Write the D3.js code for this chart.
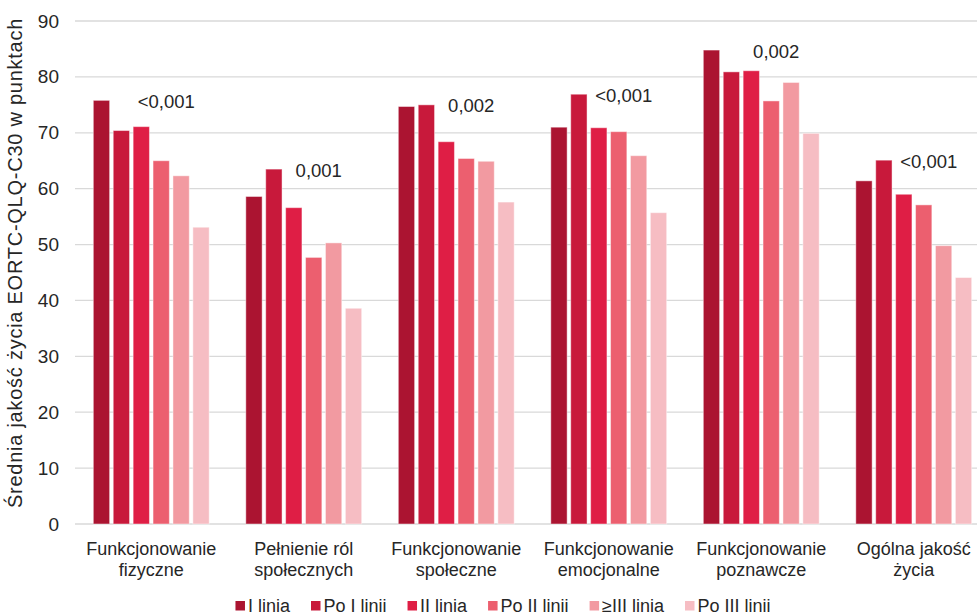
<!DOCTYPE html>
<html>
<head>
<meta charset="utf-8">
<script src="https://cdn.jsdelivr.net/npm/d3@7"></script>
<style>
  html, body { margin: 0; padding: 0; background: #fff; }
  svg { display: block; font-family: "Liberation Sans", Arial, sans-serif; }
</style>
</head>
<body>
<svg id="chart" width="977" height="616"></svg>
<script>
// Domains of EORTC QLQ-C30 (two-line labels)
const categories = [
  ["Funkcjonowanie", "fizyczne"],
  ["Pełnienie ról", "społecznych"],
  ["Funkcjonowanie", "społeczne"],
  ["Funkcjonowanie", "emocjonalne"],
  ["Funkcjonowanie", "poznawcze"],
  ["Ogólna jakość", "życia"]
];

// Treatment-line groups
const seriesNames = ["I linia", "Po I linii", "II linia", "Po II linii", "≥III linia", "Po III linii"];

// Mean scores per series, one value per domain
const iLinia      = [75.8, 58.6, 74.7, 71.0, 84.8, 61.4];
const poILinii    = [70.4, 63.5, 75.0, 76.9, 80.9, 65.1];
const iiLinia     = [71.1, 56.6, 68.4, 70.9, 81.1, 59.0];
const poIILinii   = [65.0, 47.7, 65.4, 70.2, 75.7, 57.1];
const geIIILinia  = [62.3, 50.3, 64.9, 65.9, 79.0, 49.8];
const poIIILinii  = [53.1, 38.6, 57.6, 55.7, 69.9, 44.1];
const seriesValues = [iLinia, poILinii, iiLinia, poIILinii, geIIILinia, poIIILinii];

// p-values for each domain
const pValues = ["<0,001", "0,001", "0,002", "<0,001", "0,002", "<0,001"];

// Y axis ticks
const yTicks = [0, 10, 20, 30, 40, 50, 60, 70, 80, 90];

const colors = ["#ab1431", "#c8193b", "#df1e45", "#ec5f6f", "#f29aa1", "#f6bdc3"];

const svg = d3.select("#chart");
const margin = { left: 75, right: 990, top: 21, bottom: 524 };

const x0 = d3.scaleBand()
  .domain(d3.range(categories.length))
  .range([margin.left, margin.right])
  .paddingInner(0).paddingOuter(0);

const x1 = d3.scaleBand()
  .domain(d3.range(seriesNames.length))
  .range([0, x0.bandwidth()])
  .paddingInner(0.181)
  .paddingOuter(0.92);

const y = d3.scaleLinear().domain([0, 90]).range([margin.bottom, margin.top]);

// Gridlines
svg.append("g")
  .selectAll("line")
  .data(yTicks)
  .join("line")
  .attr("x1", margin.left)
  .attr("x2", margin.right)
  .attr("y1", d => y(d))
  .attr("y2", d => y(d))
  .attr("stroke", "#d9d9d9")
  .attr("stroke-width", 1.3);

// Y axis tick labels
const yAxis = d3.axisLeft(y).tickValues(yTicks).tickSize(0).tickPadding(0);
const yG = svg.append("g")
  .attr("transform", "translate(59,0)")
  .call(yAxis);
yG.select(".domain").remove();
yG.selectAll("text")
  .attr("font-size", "19px")
  .attr("fill", "#262626")
  .attr("font-family", "Liberation Sans, Arial, sans-serif");

// Y axis title
svg.append("text")
  .attr("transform", "translate(22,263) rotate(-90)")
  .attr("text-anchor", "middle")
  .attr("font-size", "20px")
  .attr("letter-spacing", "0.75px")
  .attr("fill", "#262626")
  .text("Średnia jakość życia EORTC-QLQ-C30 w punktach");

// Bars
const groups = svg.append("g")
  .selectAll("g")
  .data(categories.map((c, i) => i))
  .join("g")
  .attr("transform", i => `translate(${x0(i)},0)`);

groups.selectAll("rect")
  .data(i => seriesValues.map((vals, s) => ({ s, v: vals[i] })))
  .join("rect")
  .attr("x", d => x1(d.s))
  .attr("width", x1.bandwidth())
  .attr("y", d => y(d.v))
  .attr("height", d => y(0) - y(d.v))
  .attr("fill", d => colors[d.s])
  .attr("stroke", "#ffffff")
  .attr("stroke-opacity", 0.45)
  .attr("stroke-width", 1);

// p-value labels above each group
groups.append("text")
  .attr("x", x0.bandwidth() / 2 + 15)
  .attr("y", i => y(d3.max(seriesValues, vals => vals[i])) + 1)
  .attr("dominant-baseline", "central")
  .attr("text-anchor", "middle")
  .attr("font-size", "18.5px")
  .attr("fill", "#262626")
  .text(i => pValues[i]);

// Category labels
const catText = groups.append("text")
  .attr("text-anchor", "middle")
  .attr("font-size", "18px")
  .attr("fill", "#262626");
catText.selectAll("tspan")
  .data(i => categories[i])
  .join("tspan")
  .attr("x", x0.bandwidth() / 2)
  .attr("y", (d, k) => 555 + k * 21)
  .text(d => d);

// Legend
const legend = svg.append("g");
const items = legend.selectAll("g")
  .data(seriesNames)
  .join("g");
items.append("rect")
  .attr("width", 9.5)
  .attr("height", 9.5)
  .attr("y", 601)
  .attr("fill", (d, i) => colors[i]);
items.append("text")
  .attr("x", 12.5)
  .attr("y", 612)
  .attr("font-size", "18px")
  .attr("fill", "#262626")
  .text(d => d);

const widths = [];
items.each(function () {
  widths.push(12.5 + this.querySelector("text").getComputedTextLength());
});
const gap = 21;
const total = d3.sum(widths) + gap * (widths.length - 1);
let start = 503 - total / 2;
items.attr("transform", (d, i) => {
  const t = `translate(${start},0)`;
  start += widths[i] + gap;
  return t;
});
</script>
</body>
</html>
